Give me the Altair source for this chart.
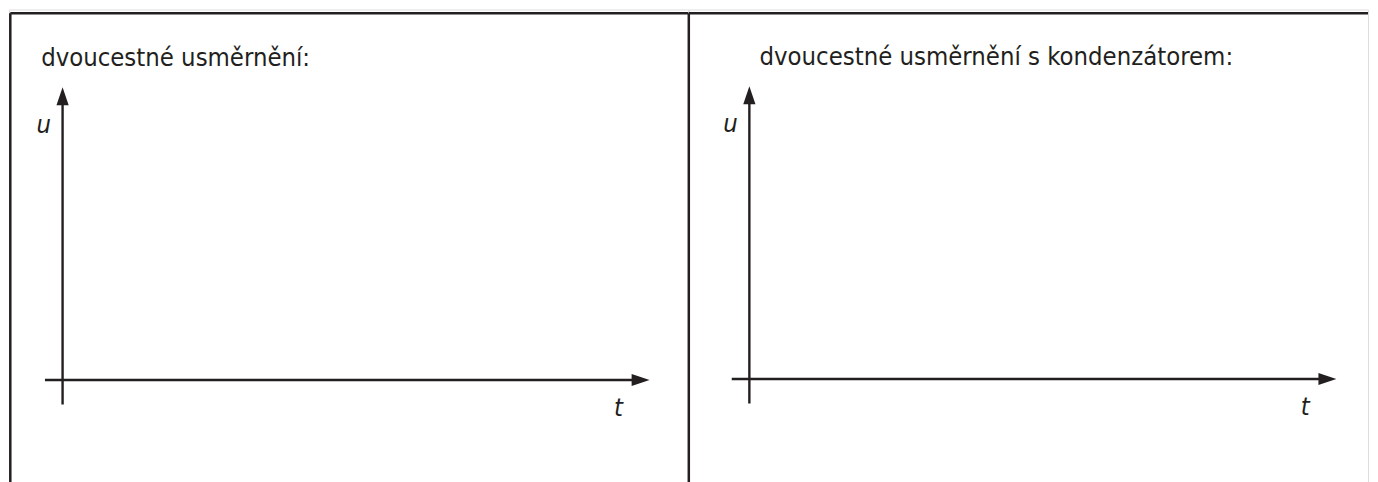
import altair as alt
import pandas as pd

# ---- content -------------------------------------------------------------
panel_titles = ["dvoucestné usměrnění:", "dvoucestné usměrnění s kondenzátorem:"]
axis_names = ["u", "t"]            # vertical axis name, horizontal axis name
t_axis_extent = [-0.30, 10.0]      # t-axis runs from just behind the origin to the arrow tip
u_axis_extent = [-0.84, 10.0]      # u-axis runs from just below the origin to the arrow tip

# ---- layout (pixels / styling) ----------------------------------------------
INK = "#231f20"
FONT = "DejaVu Sans Condensed"
H = 474
PANEL_W = [681, 681]
ORIGIN_PX = [(53.7, 371.3), (61.0, 370.3)]   # origin of (t, u) inside each panel
T_UNIT = 58.83      # px per t unit
U_UNIT = 29.33      # px per u unit
FRAME_TOP_PX = 3.7
FRAME_LEFT_PX = [1.3, 0.3]
TITLE_PX = [(32.2, 56.3), (71.2, 55.3)]      # left / baseline of the title
U_LABEL = (-0.32, 8.43)
T_LABEL = (9.47, -1.22)
HEAD = 18.0


def panel(i):
    ox, oy = ORIGIN_PX[i]
    w = PANEL_W[i]
    xdom = [-ox / T_UNIT, (w - ox) / T_UNIT]
    ydom = [-(H - oy) / U_UNIT, oy / U_UNIT]
    xs = alt.Scale(domain=xdom, nice=False, zero=False)
    ys = alt.Scale(domain=ydom, nice=False, zero=False)

    def X(f):
        return alt.X(f, type="quantitative", scale=xs, axis=None)

    def Y(f):
        return alt.Y(f, type="quantitative", scale=ys, axis=None)

    top_u = (oy - FRAME_TOP_PX) / U_UNIT
    left_t = (FRAME_LEFT_PX[i] - ox) / T_UNIT
    frame = pd.DataFrame({
        "x": [left_t, left_t],
        "x2": [left_t, xdom[1]],
        "y": [top_u, top_u],
        "y2": [ydom[0], top_u],
    })
    frame_layer = alt.Chart(frame).mark_rule(color=INK, strokeWidth=2.5, strokeCap="butt").encode(
        x=X("x"), x2="x2", y=Y("y"), y2="y2"
    )

    head_t = HEAD / 2 / T_UNIT
    head_u = HEAD / 2 / U_UNIT
    axes = pd.DataFrame({
        "x": [t_axis_extent[0], 0.0],
        "x2": [t_axis_extent[1] - head_t, 0.0],
        "y": [0.0, u_axis_extent[0]],
        "y2": [0.0, u_axis_extent[1] - head_u],
    })
    axes_layer = alt.Chart(axes).mark_rule(color=INK, strokeWidth=2.4, strokeCap="butt").encode(
        x=X("x"), x2="x2", y=Y("y"), y2="y2"
    )

    right_head = alt.Chart(pd.DataFrame({"x": [t_axis_extent[1]], "y": [0.0]})).mark_point(
        shape="M0,0L-2,-0.68L-2,0.68Z", filled=True, size=HEAD * HEAD, color=INK,
        opacity=1, strokeWidth=0
    ).encode(x=X("x"), y=Y("y"))
    up_head = alt.Chart(pd.DataFrame({"x": [0.0], "y": [u_axis_extent[1]]})).mark_point(
        shape="M0,0L-0.68,2L0.68,2Z", filled=True, size=HEAD * HEAD, color=INK,
        opacity=1, strokeWidth=0
    ).encode(x=X("x"), y=Y("y"))

    tx, ty = TITLE_PX[i]
    title = alt.Chart(pd.DataFrame({
        "x": [(tx - ox) / T_UNIT], "y": [(oy - ty) / U_UNIT], "text": [panel_titles[i]]
    })).mark_text(
        font=FONT, fontSize=25.5, align="left", baseline="alphabetic", color=INK
    ).encode(x=X("x"), y=Y("y"), text="text:N")

    labels = alt.Chart(pd.DataFrame({
        "x": [U_LABEL[0], T_LABEL[0]], "y": [U_LABEL[1], T_LABEL[1]], "text": axis_names
    })).mark_text(
        font=FONT, fontSize=25.5, fontStyle="italic", align="center", baseline="alphabetic", color=INK
    ).encode(x=X("x"), y=Y("y"), text="text:N")

    return alt.layer(frame_layer, axes_layer, right_head, up_head, title, labels).properties(
        width=w, height=H
    )


chart = alt.hconcat(panel(0), panel(1), spacing=0, bounds="flush").properties(
    padding=0
).configure_view(strokeWidth=0).configure(background="white")

chart.save("out.html", embed_options={"renderer": "svg", "actions": False})
